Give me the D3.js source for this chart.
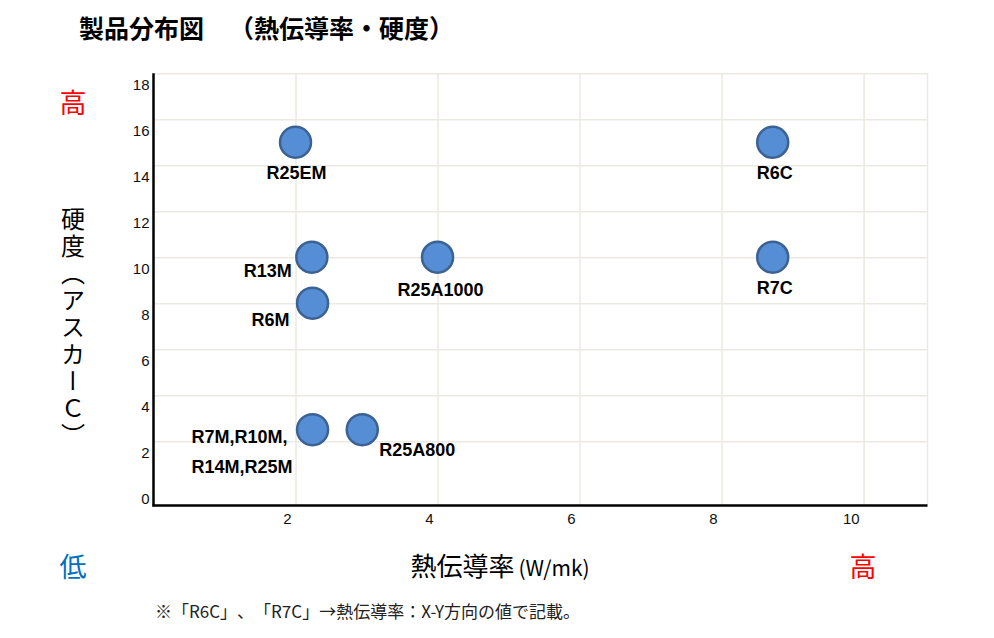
<!DOCTYPE html>
<html>
<head>
<meta charset="utf-8">
<script src="https://cdn.jsdelivr.net/npm/d3@7"></script>
<style>
    body { margin: 0; background: #fff; }
    text { font-family: "Liberation Sans", Arial, sans-serif; }
    .jp { font-family: "Noto Sans CJK JP", sans-serif; text-spacing-trim: space-all; }
    .grid line { stroke: #ebe9e1; stroke-width: 1.5; }
    .grid path { display: none; }
    .tick-label { font-size: 15px; fill: #111; }
    .dot { fill: #558ed5; stroke: #3c6193; stroke-width: 2.5; }
    .dot-label { font-size: 18px; font-weight: bold; fill: #000; }
</style>
</head>
<body>
<script>
// product names, thermal conductivity (W/mk), hardness (Asker C)
const products = ["R25EM", "R6C", "R13M", "R25A1000", "R7C", "R6M", "R7M,R10M,|R14M,R25M", "R25A800"];
const conductivity = [2.0, 8.72, 2.23, 4.0, 8.72, 2.24, 2.24, 2.94];
const hardness = [15, 15, 10, 10, 10, 8, 2.5, 2.5];

const xTicks = [2, 4, 6, 8, 10];
const yTicks = [0, 2, 4, 6, 8, 10, 12, 14, 16, 18];

const title = "製品分布図　（熱伝導率・硬度）";
const yTitle = "硬度（アスカーＣ）";
const xTitle = "熱伝導率";
const xUnit = "(W/mk)";
const note = "※「R6C」、「R7C」→熱伝導率：X-Y方向の値で記載。";

// where each label sits next to its dot: [anchor, dx, dy]
const labelPlace = {
    "R25EM": ["middle", 1, 37],
    "R6C": ["middle", 2, 37],
    "R7C": ["middle", 2, 37],
    "R25A1000": ["middle", 3, 39],
    "R13M": ["end", -20, 20],
    "R6M": ["end", -23, 23],
    "R7M,R10M,|R14M,R25M": ["start", -121, 13],
    "R25A800": ["start", 17, 26]
};

const data = products.map((p, i) => ({ name: p, x: conductivity[i], y: hardness[i] }));

const W = 994, H = 638;
const plotLeft = 153.5, plotRight = 927.5, plotTop = 73.3, plotBottom = 505.5;

const x = d3.scaleLinear().domain([0, 10.9]).range([plotLeft, plotRight]);
const y = d3.scaleLinear().domain([-0.8, 18]).range([plotBottom, plotTop]);

const svg = d3.select("body").append("svg")
    .attr("width", W)
    .attr("height", H);

// grid
svg.append("g")
    .attr("class", "grid")
    .attr("transform", "translate(0," + plotBottom + ")")
    .call(d3.axisBottom(x).tickValues(xTicks).tickSize(-(plotBottom - plotTop)).tickFormat(""));

svg.append("g")
    .attr("class", "grid")
    .attr("transform", "translate(" + plotLeft + ",0)")
    .call(d3.axisLeft(y).tickValues(yTicks.filter(d => d > 0)).tickSize(-(plotRight - plotLeft)).tickFormat(""));

svg.append("line")
    .attr("x1", plotRight).attr("x2", plotRight)
    .attr("y1", plotTop).attr("y2", plotBottom)
    .attr("stroke", "#ebe9e1").attr("stroke-width", 1.5);

// axis lines
svg.append("line")
    .attr("x1", plotLeft).attr("x2", plotLeft)
    .attr("y1", plotTop).attr("y2", plotBottom + 1)
    .attr("stroke", "#000").attr("stroke-width", 2.5);

svg.append("line")
    .attr("x1", plotLeft - 1).attr("x2", plotRight)
    .attr("y1", plotBottom).attr("y2", plotBottom)
    .attr("stroke", "#000").attr("stroke-width", 2.5);

// tick labels
svg.selectAll(".xt")
    .data(xTicks)
    .enter().append("text")
    .attr("class", "tick-label")
    .attr("x", d => x(d) - 4)
    .attr("y", plotBottom + 13)
    .attr("dominant-baseline", "central")
    .attr("text-anchor", "end")
    .text(d => d);

svg.selectAll(".yt")
    .data(yTicks)
    .enter().append("text")
    .attr("class", "tick-label")
    .attr("x", plotLeft - 4)
    .attr("y", d => y(d) + 11)
    .attr("dominant-baseline", "central")
    .attr("text-anchor", "end")
    .text(d => d);

// dots
svg.selectAll(".dot")
    .data(data)
    .enter().append("circle")
    .attr("class", "dot")
    .attr("cx", d => x(d.x))
    .attr("cy", d => y(d.y))
    .attr("r", 15.5);

const labels = svg.selectAll(".dot-label")
    .data(data)
    .enter().append("text")
    .attr("class", "dot-label")
    .attr("text-anchor", d => labelPlace[d.name][0])
    .attr("x", d => x(d.x) + labelPlace[d.name][1])
    .attr("y", d => y(d.y) + labelPlace[d.name][2]);

labels.selectAll("tspan")
    .data(d => d.name.split("|").map(t => ({ t: t, d: d })))
    .enter().append("tspan")
    .attr("x", l => x(l.d.x) + labelPlace[l.d.name][1])
    .attr("dy", (l, i) => i === 0 ? 0 : 30)
    .text(l => l.t);

// titles
svg.append("text")
    .attr("class", "jp")
    .attr("x", 79)
    .attr("y", 38)
    .attr("font-size", 25)
    .attr("font-weight", "bold")
    .text(title);

svg.append("text")
    .attr("class", "jp")
    .attr("x", 73)
    .attr("y", 207)
    .attr("font-size", 24)
    .style("writing-mode", "vertical-rl")
    .style("text-orientation", "upright")
    .style("letter-spacing", "3px")
    .text(yTitle);

const xt = svg.append("text")
    .attr("class", "jp")
    .attr("x", 500)
    .attr("y", 576)
    .attr("text-anchor", "middle");
xt.append("tspan").attr("font-size", 26).text(xTitle);
xt.append("tspan").attr("font-size", 21).attr("dx", 4).text(xUnit);

svg.append("text")
    .attr("class", "jp")
    .attr("x", 155)
    .attr("y", 618)
    .attr("font-size", 17)
    .attr("fill", "#222")
    .text(note);

// low / high markers
const marks = [["高", 73, 101, "#ff0000"], ["低", 73, 565, "#0070c0"], ["高", 863, 565, "#ff0000"]];
svg.selectAll(".mark")
    .data(marks)
    .enter().append("text")
    .attr("class", "jp")
    .attr("x", d => d[1])
    .attr("y", d => d[2])
    .attr("text-anchor", "middle")
    .attr("dominant-baseline", "central")
    .attr("font-size", 27)
    .attr("fill", d => d[3])
    .text(d => d[0]);
</script>
</body>
</html>
